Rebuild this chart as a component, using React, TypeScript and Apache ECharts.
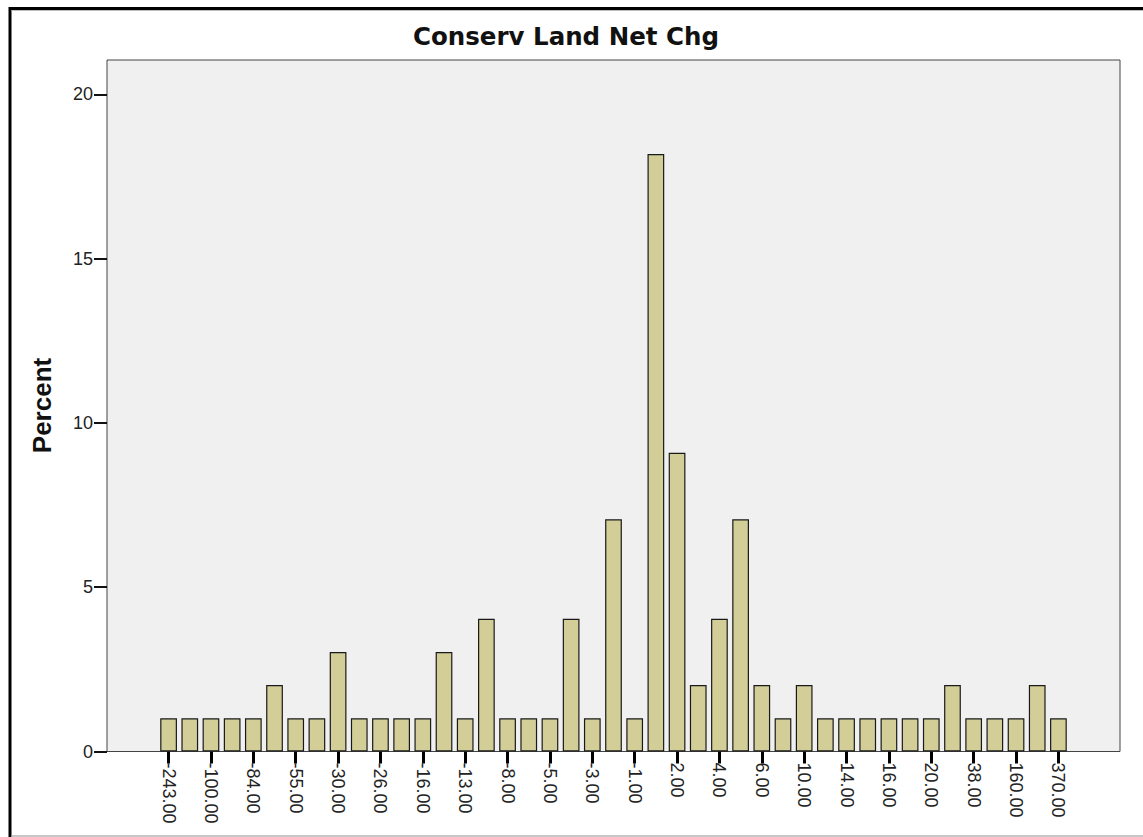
import React, { useEffect, useRef } from "react";
import * as echarts from "echarts";

const categories = [
  "-243.00", "-150.00", "-100.00", "-90.00", "-84.00", "-60.00", "-55.00", "-40.00",
  "-30.00", "-28.00", "-26.00", "-20.00", "-16.00", "-15.00", "-13.00", "-10.00",
  "-8.00", "-6.00", "-5.00", "-4.00", "-3.00", "-2.00", "-1.00", ".00",
  "2.00", "3.00", "4.00", "5.00", "6.00", "8.00", "10.00", "12.00",
  "14.00", "15.00", "16.00", "18.00", "20.00", "25.00", "38.00", "50.00",
  "160.00", "200.00", "370.00",
];

const percentValues = [
  1.01, 1.01, 1.01, 1.01, 1.01, 2.02, 1.01, 1.01,
  3.03, 1.01, 1.01, 1.01, 1.01, 3.03, 1.01, 4.04,
  1.01, 1.01, 1.01, 4.04, 1.01, 7.07, 1.01, 18.18,
  9.09, 2.02, 4.04, 7.07, 2.02, 1.01, 2.02, 1.01,
  1.01, 1.01, 1.01, 1.01, 1.01, 2.02, 1.01, 1.01,
  1.01, 2.02, 1.01,
];

const titleText = "Conserv Land Net Chg";
const yAxisTitle = "Percent";

export default function App() {
  const ref = useRef<HTMLDivElement>(null);

  useEffect(() => {
    if (!ref.current) return;
    const chart = echarts.init(ref.current, undefined, { renderer: "svg" });
    const tickFont = "'Liberation Sans', Arial, sans-serif";
    chart.setOption({
      animation: false,
      backgroundColor: "#ffffff",
      grid: [
        {
          left: 107,
          top: 60,
          right: 23,
          bottom: 85.5,
          show: true,
          backgroundColor: "#f0f0f0",
          borderColor: "#444444",
          borderWidth: 1,
        },
        {
          left: 158,
          width: 911,
          top: 94.3,
          bottom: 85.5,
        },
      ],
      xAxis: [
        { type: "value", gridIndex: 0, show: false, min: 0, max: 1 },
        {
          type: "category",
          gridIndex: 1,
          data: categories,
          boundaryGap: true,
          axisLine: { show: false },
          axisTick: {
            show: true,
            alignWithLabel: true,
            interval: 1,
            length: 12,
            lineStyle: { color: "#000000", width: 3 },
          },
          axisLabel: {
            interval: 1,
            rotate: -90,
            margin: 11,
            fontSize: 18,
            fontFamily: tickFont,
            color: "#222222",
          },
        },
      ],
      yAxis: [
        { type: "value", gridIndex: 0, show: false, min: 0, max: 1 },
        {
          type: "value",
          gridIndex: 1,
          min: 0,
          max: 20,
          interval: 5,
          offset: 51,
          splitLine: { show: false },
          axisLine: { show: false },
          axisTick: {
            show: true,
            length: 13,
            lineStyle: { color: "#111111", width: 2 },
          },
          axisLabel: {
            margin: 14,
            fontSize: 18,
            fontFamily: tickFont,
            color: "#222222",
          },
        },
      ],
      series: [
        {
          type: "bar",
          xAxisIndex: 1,
          yAxisIndex: 1,
          data: percentValues,
          barCategoryGap: "21%",
          itemStyle: {
            color: "#d3ce97",
            borderColor: "#1a1a1a",
            borderWidth: 1.2,
          },
          z: 3,
        },
      ],
      graphic: [
        {
          type: "line",
          shape: { x1: 9, y1: 8.5, x2: 1143, y2: 8.5 },
          style: { stroke: "#000000", lineWidth: 3 },
        },
        {
          type: "line",
          shape: { x1: 10, y1: 7, x2: 10, y2: 837 },
          style: { stroke: "#000000", lineWidth: 3 },
        },
        {
          type: "line",
          shape: { x1: 11.5, y1: 10.5, x2: 1143, y2: 10.5 },
          style: { stroke: "#bdbdbd", lineWidth: 1 },
        },
        {
          type: "line",
          shape: { x1: 11.5, y1: 836, x2: 1143, y2: 836 },
          style: { stroke: "#b4b4b4", lineWidth: 1.5 },
        },
        {
          type: "text",
          x: 566,
          y: 36,
          style: {
            text: titleText,
            fontFamily: "'DejaVu Sans', Verdana, sans-serif",
            fontWeight: "bold",
            fontSize: 24.5,
            fill: "#111111",
            align: "center",
            verticalAlign: "middle",
          },
        },
        {
          type: "text",
          x: 42,
          y: 405.5,
          rotation: Math.PI / 2,
          style: {
            text: yAxisTitle,
            fontFamily: "'Liberation Sans', Arial, sans-serif",
            fontWeight: "bold",
            fontSize: 26,
            fill: "#111111",
            align: "center",
            verticalAlign: "middle",
          },
        },
      ],
    });
    return () => chart.dispose();
  }, []);

  return (
    <div
      ref={ref}
      style={{ position: "absolute", left: 0, top: 0, width: 1143, height: 837 }}
    />
  );
}
